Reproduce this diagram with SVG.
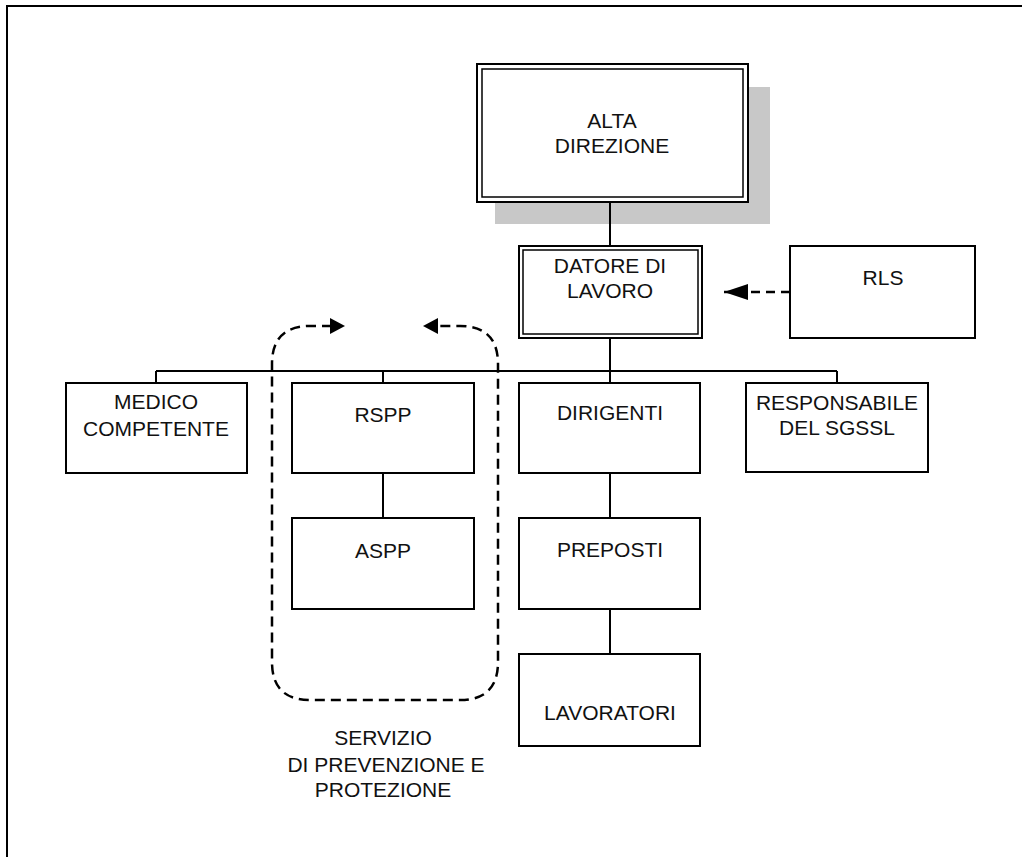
<svg xmlns="http://www.w3.org/2000/svg" width="1022" height="857" viewBox="0 0 1022 857">
<style>
  .box { fill: #ffffff; stroke: #000000; stroke-width: 2; }
  .inner { fill: none; stroke: #000000; stroke-width: 1.5; }
  .conn { fill: none; stroke: #000000; stroke-width: 2; }
  .dash { fill: none; stroke: #000000; stroke-width: 2.5; stroke-dasharray: 10 6; }
  text { font-family: "Liberation Sans", Arial, sans-serif; font-size: 21px; fill: #111111; text-anchor: middle; }
</style>
<defs>
  <marker id="arr" viewBox="0 0 24 16" refX="24" refY="8" markerWidth="24" markerHeight="16" markerUnits="userSpaceOnUse" orient="auto">
    <path d="M0 0 L24 8 L0 16 Z" fill="#000000"/>
  </marker>
</defs>
<rect width="1022" height="857" fill="#ffffff"/>
<g id="frame">
  <path d="M7 857 L7 6 L1022 6" fill="none" stroke="#000000" stroke-width="2"/>
</g>
<g id="alta-direzione">
  <rect x="495" y="87" width="275" height="137" fill="#c8c8c8"/>
  <rect class="box" x="477" y="64" width="271" height="138"/>
  <rect class="inner" x="482" y="69" width="261" height="128"/>
  <text x="612" y="128">ALTA</text>
  <text x="612" y="153">DIREZIONE</text>
</g>
<g id="connectors">
  <line class="conn" x1="610" y1="202" x2="610" y2="246"/>
  <line class="conn" x1="610" y1="338" x2="610" y2="383"/>
  <line class="conn" x1="156" y1="371" x2="837" y2="371"/>
  <line class="conn" x1="156" y1="371" x2="156" y2="383"/>
  <line class="conn" x1="383" y1="371" x2="383" y2="383"/>
  <line class="conn" x1="837" y1="371" x2="837" y2="383"/>
  <line class="conn" x1="383" y1="473" x2="383" y2="518"/>
  <line class="conn" x1="610" y1="473" x2="610" y2="518"/>
  <line class="conn" x1="610" y1="609" x2="610" y2="654"/>
  <line class="dash" x1="790" y1="292" x2="724" y2="292" style="stroke-dasharray: 9 6" marker-end="url(#arr)"/>
</g>
<g id="spp-boundary">
  <path class="dash" d="M332 326 L310 326 Q272 326 272 364 L272 662 Q272 700 310 700 L460 700 Q498 700 498 662 L498 364 Q498 326 460 326 L436 326"/>
  <path d="M330 318 L345 326 L330 334 Z" fill="#000000"/>
  <path d="M438 318 L423 326 L438 334 Z" fill="#000000"/>
</g>
<g id="datore-di-lavoro">
  <rect class="box" x="519" y="246" width="183" height="92"/>
  <rect class="inner" x="523" y="250" width="175" height="84"/>
  <text x="610" y="273">DATORE DI</text>
  <text x="610" y="298">LAVORO</text>
</g>
<g id="rls">
  <rect class="box" x="790" y="246" width="185" height="92"/>
  <text x="883" y="285">RLS</text>
</g>
<g id="medico-competente">
  <rect class="box" x="66" y="383" width="181" height="90"/>
  <text x="156" y="409">MEDICO</text>
  <text x="156" y="436">COMPETENTE</text>
</g>
<g id="rspp">
  <rect class="box" x="292" y="383" width="182" height="90"/>
  <text x="383" y="422">RSPP</text>
</g>
<g id="aspp">
  <rect class="box" x="292" y="518" width="182" height="91"/>
  <text x="383" y="558">ASPP</text>
</g>
<g id="dirigenti">
  <rect class="box" x="519" y="383" width="181" height="90"/>
  <text x="610" y="420">DIRIGENTI</text>
</g>
<g id="preposti">
  <rect class="box" x="519" y="518" width="181" height="91"/>
  <text x="610" y="557">PREPOSTI</text>
</g>
<g id="lavoratori">
  <rect class="box" x="519" y="654" width="181" height="92"/>
  <text x="610" y="720">LAVORATORI</text>
</g>
<g id="responsabile-sgssl">
  <rect class="box" x="746" y="383" width="182" height="89"/>
  <text x="837" y="410">RESPONSABILE</text>
  <text x="837" y="435">DEL SGSSL</text>
</g>
<g id="spp-label">
  <text x="383" y="745">SERVIZIO</text>
  <text x="386" y="772">DI PREVENZIONE E</text>
  <text x="383" y="797">PROTEZIONE</text>
</g>
</svg>
